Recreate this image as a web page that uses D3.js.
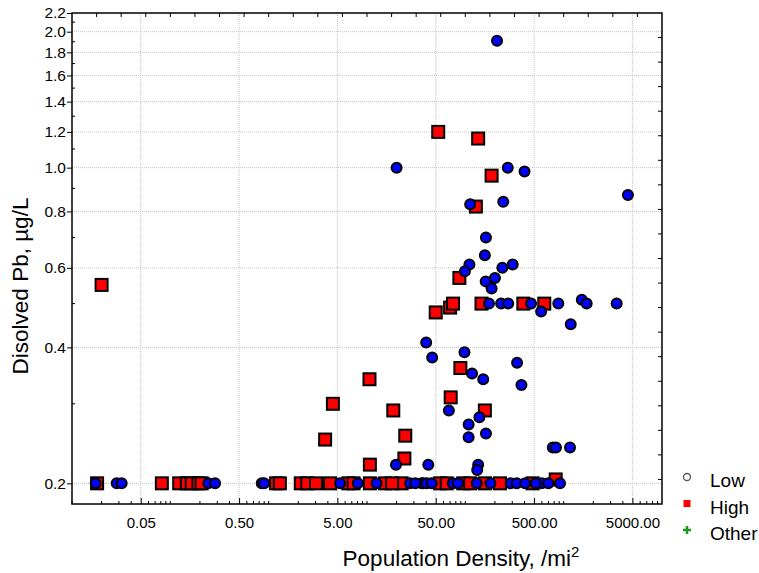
<!DOCTYPE html>
<html lang="en">
<head>
    <title>Dissolved Pb vs population density</title>
    <script src="https://d3js.org/d3.v7.min.js"></script>
    <style>
        body { margin: 0; background: #fff; }
        svg text { font-family: "Liberation Sans", Arial, sans-serif; fill: #000; }
        .grid line { stroke: #c4c4c4; stroke-width: 1; stroke-dasharray: 1,1; }
        .axis path, .axis line { stroke: #000; }
    </style>
</head>
<body>
<svg id="g1"></svg>
<script>

    // population density (/mi2), dissolved Pb (ug/L)
    let lowPoints = [
        [210,1.91],[4500,0.87],[20,1.0],[270,1.0],[400,0.98],[112,0.83],[243,0.84],
        [162,0.70],[158,0.64],[110,0.61],[99,0.59],[238,0.60],[303,0.61],[161,0.56],
        [200,0.57],[185,0.54],
        [174,0.5],[231,0.5],[273,0.5],[466,0.5],[882,0.5],[1528,0.51],[1714,0.5],[3460,0.5],
        [590,0.48],[1180,0.45],[40,0.41],[46,0.38],[98,0.39],[117,0.35],[152,0.34],
        [336,0.37],[372,0.33],[68,0.29],[139,0.28],[108,0.27],[108,0.253],[162,0.258],
        [775,0.24],[835,0.24],[1160,0.24],[19.7,0.22],[42,0.22],[135,0.22],[132,0.214],
        [0.0174,0.2],[0.0285,0.2],[0.032,0.2],[0.243,0.2],[0.285,0.2],[0.85,0.2],[0.9,0.2],
        [5.32,0.2],[8.05,0.2],[27.4,0.2],[36,0.2],[37.4,0.2],[40.5,0.2],[45.5,0.2],
        [74.5,0.2],[130.6,0.2],[289,0.2],[333,0.2],[405,0.2],[598,0.2],[698,0.2],[918,0.2],
        [12.5,0.2],[31,0.2],[84,0.2],[180,0.2],[520,0.2]
    ];

    let highPoints = [
        [0.02,0.55],[53,1.2],[135,1.16],[185,0.96],[128,0.82],[87,0.57],
        [50,0.478],[70,0.49],[75,0.5],[146,0.5],[389,0.5],[635,0.5],
        [89,0.36],[10.6,0.34],[4.5,0.30],[18.5,0.29],[71,0.31],[158,0.29],
        [3.75,0.25],[24.5,0.255],[10.7,0.22],[24,0.227],[830,0.204],
        [0.018,0.2],[0.082,0.2],[0.123,0.2],[0.147,0.2],[0.165,0.2],[0.193,0.2],[0.208,0.2],
        [1.19,0.2],[1.3,0.2],[2.12,0.2],[2.47,0.2],[3.03,0.2],[4.21,0.2],[6.46,0.2],
        [10.7,0.2],[15.3,0.2],[22.5,0.2],[55.3,0.2],[64.7,0.2],[95.3,0.2],[112,0.2],
        [158.5,0.2],[225,0.2],[484,0.2],[7.3,0.2],[18,0.2]
    ];

    let xTicks = [0.05, 0.5, 5, 50, 500, 5000];
    let yTicks = [0.2, 0.4, 0.6, 0.8, 1.0, 1.2, 1.4, 1.6, 1.8, 2.0, 2.2];
    let yMinor = [0.3, 0.5, 0.7, 0.9, 1.1, 1.3, 1.5, 1.7, 1.9, 2.1];
    let legendItems = ["Low", "High", "Other"];

    let width = 759, height = 573,
        margin = {top: 13, right: 97, bottom: 69, left: 72};

    let svg = d3.select("#g1").attr("width", width).attr("height", height);

    let x = d3.scaleLog().domain([0.01, 10000]).range([margin.left, width - margin.right]);
    let y = d3.scaleLog().domain([0.18, 2.2]).range([height - margin.bottom, margin.top]);

    let x0 = margin.left, x1 = width - margin.right,
        y0 = height - margin.bottom, y1 = margin.top;

    // grid
    let grid = svg.append("g").attr("class", "grid");
    grid.selectAll(".h").data(yTicks.filter(d => d < 2.2)).enter().append("line")
        .attr("x1", x0).attr("x2", x1)
        .attr("y1", d => y(d)).attr("y2", d => y(d));
    grid.selectAll(".v").data(xTicks).enter().append("line")
        .attr("y1", y0).attr("y2", y1)
        .attr("x1", d => x(d)).attr("x2", d => x(d));

    // frame
    svg.append("rect").attr("x", x0).attr("y", y1)
        .attr("width", x1 - x0).attr("height", y0 - y1)
        .attr("fill", "none").attr("stroke", "#000").attr("stroke-width", 1.5);

    // left axis
    let yAxis = svg.append("g").attr("class", "axis")
        .attr("transform", `translate(${x0},0)`)
        .call(d3.axisLeft(y).tickValues(yTicks).tickFormat(d3.format(".1f"))
            .tickSize(5).tickPadding(1));
    yAxis.select(".domain").remove();
    yAxis.selectAll("text").style("font-size", "15.5px");
    svg.append("g").selectAll("line").data(yMinor).enter().append("line")
        .attr("x1", x0).attr("x2", x0 + 3)
        .attr("y1", d => y(d)).attr("y2", d => y(d))
        .attr("stroke", "#000");

    // bottom axis
    let xAxis = svg.append("g").attr("class", "axis")
        .attr("transform", `translate(0,${y0})`)
        .call(d3.axisBottom(x).tickValues(xTicks).tickFormat(d3.format(".2f"))
            .tickSize(-6).tickPadding(13));
    xAxis.select(".domain").remove();
    xAxis.selectAll("text").style("font-size", "15px");

    let xMinor = [];
    for (let e = -2; e < 4; e++) {
        for (let k = 1; k <= 9; k++) {
            let v = k * Math.pow(10, e);
            if (xTicks.indexOf(+v.toPrecision(3)) < 0) xMinor.push(v);
        }
    }
    svg.append("g").selectAll("line").data(xMinor).enter().append("line")
        .attr("x1", d => x(d)).attr("x2", d => x(d))
        .attr("y1", y0).attr("y2", y0 - 3)
        .attr("stroke", "#000");

    // top and right decorative ticks
    let topScale = d3.scaleLinear().domain([0, 24]).range([x0, x1]);
    let rightScale = d3.scaleLinear().domain([0, 20]).range([y0, y1]);
    svg.append("g").selectAll("line").data(d3.range(1, 24)).enter().append("line")
        .attr("x1", d => topScale(d)).attr("x2", d => topScale(d))
        .attr("y1", y1).attr("y2", y1 + 4).attr("stroke", "#000");
    svg.append("g").selectAll("line").data(d3.range(1, 20)).enter().append("line")
        .attr("y1", d => rightScale(d)).attr("y2", d => rightScale(d))
        .attr("x1", x1).attr("x2", x1 - 4).attr("stroke", "#000");

    // points
    let sq = 12;
    svg.append("g").selectAll("rect").data(highPoints).enter().append("rect")
        .attr("x", d => x(d[0]) - sq / 2)
        .attr("y", d => y(d[1]) - sq / 2)
        .attr("width", sq).attr("height", sq)
        .attr("fill", "#ff0000").attr("stroke", "#000").attr("stroke-width", 2);

    svg.append("g").selectAll("circle").data(lowPoints).enter().append("circle")
        .attr("cx", d => x(d[0]))
        .attr("cy", d => y(d[1]))
        .attr("r", 5)
        .attr("fill", "#0000ff").attr("stroke", "#000").attr("stroke-width", 2);

    // axis titles
    svg.append("text")
        .attr("x", 461).attr("y", 566)
        .attr("text-anchor", "middle")
        .style("font-size", "22.5px")
        .html('Population Density, /mi<tspan dy="-9" style="font-size:15px">2</tspan>');

    svg.append("text")
        .attr("transform", "translate(28,286) rotate(-90)")
        .attr("text-anchor", "middle")
        .style("font-size", "22.5px")
        .text("Disolved Pb, \u00b5g/L");

    // legend
    let legend = svg.append("g").attr("transform", "translate(687,477)");
    let rowH = 26.5;
    legend.append("circle").attr("cx", 0).attr("cy", 0).attr("r", 3.5)
        .attr("fill", "#fff").attr("stroke", "#555").attr("stroke-width", 1.3);
    legend.append("rect").attr("x", -3.5).attr("y", rowH - 3.5).attr("width", 7).attr("height", 7)
        .attr("fill", "#ff0000");
    legend.append("path")
        .attr("d", `M-4,${2 * rowH}H4M0,${2 * rowH - 4}V${2 * rowH + 4}`)
        .attr("stroke", "#1a9a1a").attr("stroke-width", 2.5);
    legend.selectAll("text").data(legendItems).enter().append("text")
        .attr("x", 23).attr("y", (d, i) => i * rowH + 10)
        .style("font-size", "19px")
        .text(d => d);

</script>
</body>
</html>
